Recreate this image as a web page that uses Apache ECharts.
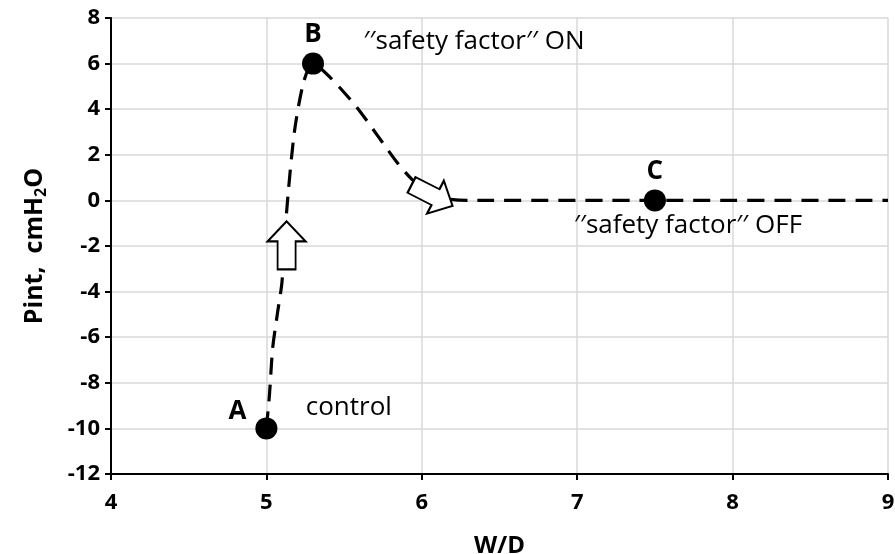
<!DOCTYPE html>
<html><head><meta charset="utf-8">
<script src="https://cdn.jsdelivr.net/npm/echarts@6/dist/echarts.min.js"></script>
<style>html,body{margin:0;padding:0;background:#fff}#c{width:895px;height:554px}</style>
</head><body><div id="c"></div>
<script>
// ---- data ----
const curveX = [5, 5.02, 5.04, 5.07, 5.1, 5.13, 5.18, 5.24, 5.3, 5.41, 5.58, 5.72, 5.84, 5.94, 6.05, 6.15, 6.3, 7.5, 9];
const curveY = [-10, -8.5, -6.5, -5, -3.6, -0.5, 3, 5.2, 6, 5.4, 4.1, 2.8, 1.67, 0.9, 0.35, 0.08, 0, 0, 0];
const pointX = [5, 5.3, 7.5];
const pointY = [-10, 6, 0];
const pointLabels = ['A', 'B', 'C'];
const arrowX = [5.13, 6.066];
const arrowY = [-1.97, 0.22];
const noteX = [5.53, 6.336, 7.713];
const noteY = [-9.1, 6.97, -1.1];
const noteText = ['control', '\u2032\u2032safety factor\u2032\u2032 ON', '\u2032\u2032safety factor\u2032\u2032 OFF'];
const xTicks = [4, 5, 6, 7, 8, 9];
const yTicks = [-12, -10, -8, -6, -4, -2, 0, 2, 4, 6, 8];

const FONT = '"Open Sans", "Noto Sans", sans-serif';
const arrowPath = 'path://M19,0 L38,20 L28,20 L28,48 L10,48 L10,20 L0,20 Z';

const chart = echarts.init(document.getElementById('c'));
chart.setOption({
  animation: false,
  grid: { left: 111, right: 7, top: 18, bottom: 80, containLabel: false, outerBoundsMode: 'none' },
  xAxis: {
    type: 'value', min: xTicks[0], max: xTicks[xTicks.length - 1], interval: 1,
    name: 'W/D', nameLocation: 'middle', nameGap: 60,
    nameTextStyle: { fontFamily: FONT, fontWeight: 'bold', fontSize: 24, color: '#000' },
    axisLine: { onZero: false, lineStyle: { color: '#000', width: 2 } },
    axisTick: { show: true, length: 6, lineStyle: { color: '#000', width: 2 } },
    axisLabel: { margin: 18, fontFamily: FONT, fontWeight: 'bold', fontSize: 22, color: '#000' },
    splitLine: { show: true, lineStyle: { color: '#d9d9d9', width: 1.5 } }
  },
  yAxis: {
    type: 'value', min: yTicks[0], max: yTicks[yTicks.length - 1], interval: 2,
    name: '{m|Pint,  cmH}{s|2}{m|O}', nameLocation: 'middle', nameGap: 61, nameRotate: 90,
    nameTextStyle: {
      rich: {
        m: { fontFamily: FONT, fontWeight: 'bold', fontSize: 25, color: '#000', lineHeight: 30 },
        s: { fontFamily: FONT, fontWeight: 'bold', fontSize: 16, color: '#000', lineHeight: 30, padding: [12, 0, 0, 0] }
      }
    },
    axisLine: { onZero: false, lineStyle: { color: '#000', width: 2 } },
    axisTick: { show: true, length: 6, lineStyle: { color: '#000', width: 2 } },
    axisLabel: { margin: 11, fontFamily: FONT, fontWeight: 'bold', fontSize: 22, color: '#000' },
    splitLine: { show: true, lineStyle: { color: '#d9d9d9', width: 1.5 } }
  },
  series: [
    {
      type: 'line', smooth: 0.25, symbol: 'none', z: 2,
      data: curveX.map((x, i) => [x, curveY[i]]),
      lineStyle: { color: '#000', width: 3.2, type: [17, 10] }
    },
    {
      type: 'scatter', z: 4, symbol: arrowPath,
      data: [
        { value: [arrowX[0], arrowY[0]], symbolSize: [38, 48], symbolRotate: 0 },
        { value: [arrowX[1], arrowY[1]], symbolSize: [37, 46], symbolRotate: -117 }
      ],
      itemStyle: { color: '#fff', borderColor: '#000', borderWidth: 2, opacity: 1 }
    },
    {
      type: 'scatter', z: 5, symbol: 'circle', symbolSize: 22,
      itemStyle: { color: '#000', opacity: 1 },
      data: pointX.map((x, i) => ({
        value: [x, pointY[i]],
        label: {
          show: true, formatter: pointLabels[i],
          position: i === 0 ? 'left' : 'top',
          offset: i === 0 ? [-4, -17] : [0, 0],
          fontFamily: FONT, fontWeight: 'bold', fontSize: 26, color: '#000'
        }
      }))
    },
    {
      type: 'scatter', z: 6, symbol: 'circle', symbolSize: 1,
      itemStyle: { color: 'rgba(0,0,0,0)', opacity: 1 },
      data: noteX.map((x, i) => ({
        value: [x, noteY[i]],
        label: {
          show: true, formatter: noteText[i], position: 'inside',
          fontFamily: FONT, fontSize: 26, color: '#000'
        }
      }))
    }
  ]
});
</script></body></html>
